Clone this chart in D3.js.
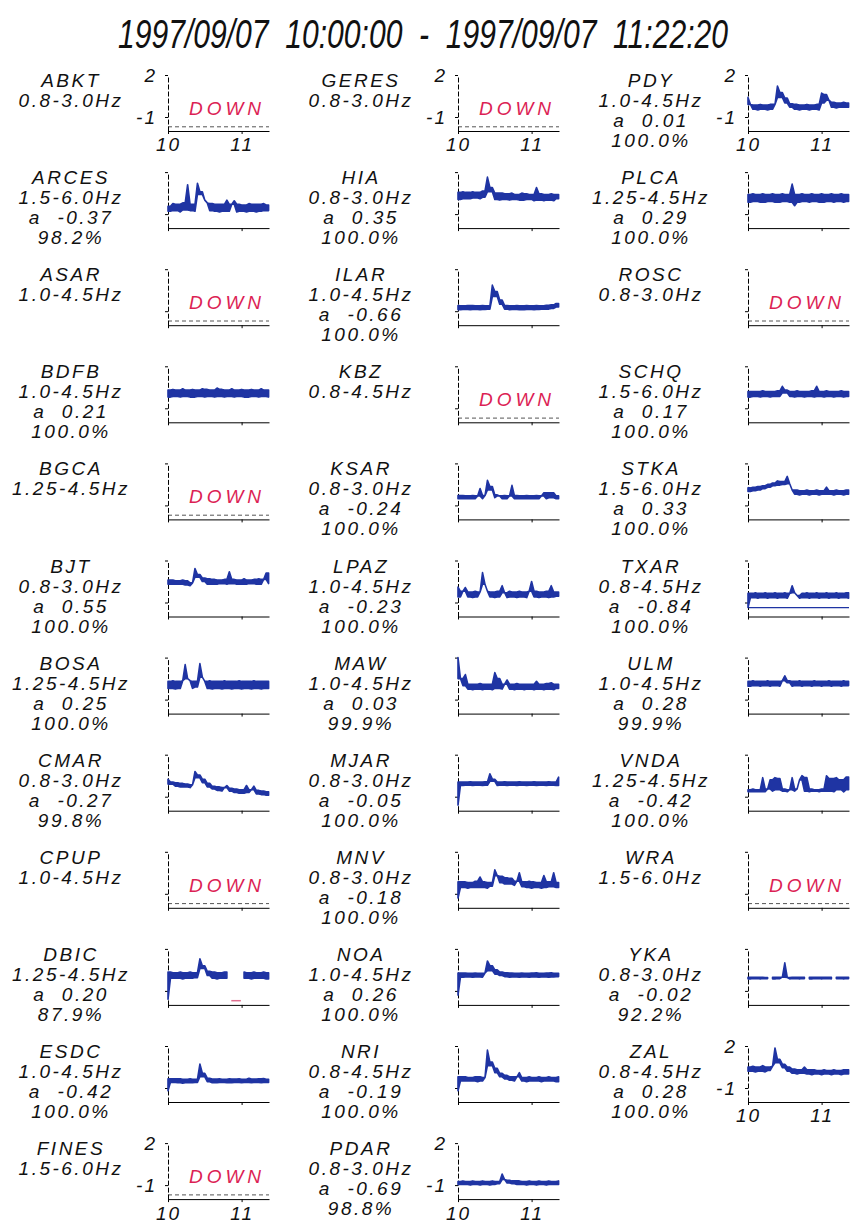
<!DOCTYPE html>
<html>
<head>
<meta charset="utf-8">
<script src="https://cdn.jsdelivr.net/npm/d3@7"></script>
<style>
  html, body { margin: 0; padding: 0; background: #fff; }
  svg { display: block; }
  text { font-family: "Liberation Sans", Arial, sans-serif; font-style: italic; white-space: pre; }
</style>
</head>
<body>
<div id="chart"></div>
<script>
// ---- data ----
const titleText = "1997/09/07  10:00:00  -  1997/09/07  11:22:20";

const stations = ["ABKT","ARCES","ASAR","BDFB","BGCA","BJT","BOSA","CMAR","CPUP","DBIC","ESDC","FINES",
  "GERES","HIA","ILAR","KBZ","KSAR","LPAZ","MAW","MJAR","MNV","NOA","NRI","PDAR",
  "PDY","PLCA","ROSC","SCHQ","STKA","TXAR","ULM","VNDA","WRA","YKA","ZAL"];
const bands = ["0.8-3.0Hz","1.5-6.0Hz","1.0-4.5Hz","1.0-4.5Hz","1.25-4.5Hz","0.8-3.0Hz","1.25-4.5Hz","0.8-3.0Hz","1.0-4.5Hz","1.25-4.5Hz","1.0-4.5Hz","1.5-6.0Hz",
  "0.8-3.0Hz","0.8-3.0Hz","1.0-4.5Hz","0.8-4.5Hz","0.8-3.0Hz","1.0-4.5Hz","1.0-4.5Hz","0.8-3.0Hz","0.8-3.0Hz","1.0-4.5Hz","0.8-4.5Hz","0.8-3.0Hz",
  "1.0-4.5Hz","1.25-4.5Hz","0.8-3.0Hz","1.5-6.0Hz","1.5-6.0Hz","0.8-4.5Hz","1.0-4.5Hz","1.25-4.5Hz","1.5-6.0Hz","0.8-3.0Hz","0.8-4.5Hz"];
const aValues = [null,-0.37,null,0.21,null,0.55,0.25,-0.27,null,0.20,-0.42,null,
  null,0.35,-0.66,null,-0.24,-0.23,0.03,-0.05,-0.18,0.26,-0.19,-0.69,
  0.01,0.29,null,0.17,0.33,-0.84,0.28,-0.42,null,-0.02,0.28];
const uptime = [null,98.2,null,100.0,null,100.0,100.0,99.8,null,87.9,100.0,null,
  null,100.0,100.0,null,100.0,100.0,99.9,100.0,100.0,100.0,100.0,98.8,
  100.0,100.0,null,100.0,100.0,100.0,99.9,100.0,null,92.2,100.0];
const columnSizes = [12, 12, 11];

const xTicks = [10, 11];
const yTicks = [2, -1];
const timeRange = [10, 11 + 22 / 60 + 20 / 3600];
// sample times, minutes after 10:00
const minutes = [0,2,4,6,8,10,12,14,16,18,20,22,24,26,28,30,32,34,36,38,40,42,
  44,46,48,50,52,54,56,58,60,62,64,66,68,70,72,74,76,78,80,82];

const sARCES = [-0.45,-0.8,-0.25,-0.75,-0.3,-0.85,-0.2,-0.7,1.1,-0.75,-0.3,-0.8,1.2,0.4,0.6,0.0,-0.2,-0.75,-0.25,-0.8,
  -0.3,-0.85,-0.3,-0.8,0.0,-0.8,-0.3,-0.05,-0.85,-0.3,-0.8,-0.35,-0.85,-0.25,-0.8,-0.3,-0.85,-0.3,-0.8,-0.25,-0.75,-0.35];
const sBDFB = [0.3,-0.2,0.35,-0.15,0.3,-0.2,0.4,-0.15,0.3,-0.2,0.35,-0.2,0.3,-0.15,0.4,-0.2,0.35,-0.15,0.3,-0.2,
  0.45,-0.15,0.35,-0.2,0.3,-0.15,0.4,-0.2,0.3,-0.15,0.35,-0.2,0.3,-0.2,0.35,-0.15,0.3,-0.2,0.4,-0.15,0.3,-0.2];
const sBJT = [0.6,0.3,0.6,0.3,0.55,0.3,0.6,0.25,0.55,0.2,0.4,1.43,0.8,1.0,0.5,0.75,0.3,0.7,0.3,0.65,
  0.3,0.6,0.35,0.65,0.3,1.2,0.35,0.65,0.3,0.6,0.3,0.7,0.3,0.6,0.35,0.65,0.3,0.7,0.3,0.65,1.1,0.35];
const sBOSA = [0.3,-0.2,0.35,-0.25,0.3,-0.2,0.35,1.5,0.5,0.35,-0.2,0.3,-0.1,1.57,0.6,0.3,-0.2,0.35,-0.25,0.3,
  -0.2,0.3,-0.25,0.35,-0.2,0.3,-0.25,0.3,-0.2,0.35,-0.25,0.3,-0.2,0.3,-0.25,0.35,-0.2,0.3,-0.25,0.3,-0.2,0.3];
const sCMAR = [0.25,-0.1,0.05,-0.25,0.0,-0.3,-0.05,-0.3,-0.1,-0.35,-0.15,0.8,0.35,0.55,0.0,0.25,-0.3,-0.05,-0.45,-0.25,
  -0.55,-0.3,-0.6,-0.35,-0.2,-0.6,-0.4,-0.7,-0.45,-0.75,-0.5,-0.75,-0.2,-0.7,-0.5,-0.25,-0.8,-0.55,-0.85,-0.6,-0.9,-0.65];
const sDBIC = [-1.6,0.35,-0.1,0.3,-0.1,0.35,-0.15,0.3,-0.1,0.35,-0.1,0.3,-0.05,1.29,0.6,0.8,0.1,0.4,-0.1,0.35,
  -0.15,0.3,-0.1,0.35,-0.1,null,null,null,null,null,null,0.35,-0.1,0.3,-0.15,0.35,-0.1,0.3,-0.1,0.35,-0.15,0.3];
const sESDC = [-1.2,-0.35,-0.6,-0.35,-0.62,-0.35,-0.65,-0.38,-0.62,-0.35,-0.62,-0.38,-0.6,0.71,-0.2,0.05,-0.55,-0.3,-0.62,-0.36,
  -0.62,-0.35,-0.6,-0.38,-0.62,-0.35,-0.62,-0.36,-0.6,-0.35,-0.62,-0.38,-0.6,-0.3,-0.62,-0.36,-0.6,-0.35,-0.62,-0.33,-0.6,-0.38];
const sHIA = [0.55,0.05,0.6,0.1,0.55,0.1,0.6,0.15,0.55,0.1,0.65,0.2,1.64,0.6,0.9,0.05,0.5,0.0,0.5,0.05,
  0.45,0.0,0.5,0.05,0.4,0.0,0.5,0.0,0.45,0.05,0.4,-0.05,0.9,0.0,0.45,-0.05,0.4,0.0,0.45,-0.05,0.4,0.1];
const sILAR = [-0.6,-0.9,-0.62,-0.88,-0.6,-0.9,-0.6,-0.88,-0.62,-0.9,-0.6,-0.88,-0.62,-0.85,0.86,0.05,0.4,-0.5,-0.2,-0.85,
  -0.6,-0.9,-0.62,-0.88,-0.6,-0.9,-0.62,-0.9,-0.6,-0.88,-0.62,-0.9,-0.6,-0.88,-0.62,-0.85,-0.58,-0.85,-0.55,-0.8,-0.45,-0.7];
const sKSAR = [-0.3,-0.52,-0.3,-0.52,-0.32,-0.52,-0.3,-0.52,-0.32,0.21,-0.52,-0.3,0.79,0.1,0.35,-0.45,-0.25,-0.32,-0.52,-0.3,
  -0.52,-0.32,0.43,-0.52,-0.3,-0.52,-0.32,-0.52,-0.3,-0.52,-0.32,-0.52,-0.3,-0.52,-0.32,-0.1,-0.52,-0.1,-0.45,-0.1,-0.52,-0.32];
const sLPAZ = [0.1,-0.6,-0.2,0.07,-0.6,-0.25,-0.65,-0.2,-0.6,-0.25,1.14,0.3,-0.2,-0.6,-0.25,-0.65,-0.2,-0.6,0.2,-0.3,
  -0.65,-0.2,-0.6,-0.25,-0.65,-0.2,-0.6,-0.25,-0.65,-0.2,0.5,-0.6,-0.2,-0.65,-0.25,-0.6,-0.2,-0.65,0.2,-0.6,-0.25,-0.55];
const sMAW = [2.0,0.5,0.0,0.79,-0.25,0.1,-0.3,0.1,-0.25,0.15,-0.3,0.1,-0.25,0.1,-0.3,0.93,-0.2,0.5,-0.25,0.1,
  0.4,-0.25,0.1,-0.3,0.15,-0.25,0.1,-0.3,0.1,-0.25,0.1,-0.3,0.3,-0.25,0.1,-0.3,0.15,-0.25,0.2,-0.3,0.1,-0.2];
const sMJAR = [-1.6,0.05,-0.2,0.05,-0.18,0.06,-0.2,0.04,-0.18,0.05,-0.2,0.06,-0.18,0.64,0.1,0.25,-0.2,0.05,-0.18,0.06,
  -0.2,0.05,-0.18,0.04,-0.2,0.06,-0.18,0.05,-0.2,0.04,-0.18,0.06,-0.2,0.05,-0.18,0.04,-0.2,0.06,-0.18,0.05,-0.2,0.4];
const sMNV = [-1.3,-0.15,-0.55,-0.15,-0.6,-0.2,-0.55,-0.1,-0.55,0.2,-0.55,-0.15,-0.6,-0.2,-0.45,0.71,0.3,-0.2,0.25,-0.3,
  0.15,-0.3,0.1,-0.4,-0.1,0.5,-0.5,-0.15,-0.55,-0.1,-0.6,-0.15,-0.55,-0.2,-0.6,0.3,-0.55,-0.15,-0.5,0.5,-0.55,-0.2];
const sNOA = [-1.3,0.28,-0.02,0.28,0.0,0.26,-0.02,0.28,0.0,0.26,-0.02,0.28,1.14,0.45,0.8,0.2,0.5,0.1,0.35,0.02,
  0.3,-0.02,0.28,0.0,0.26,-0.02,0.28,0.0,0.26,-0.02,0.28,0.0,0.3,-0.02,0.26,0.0,0.28,-0.02,0.3,0.0,0.26,0.02];
const sNRI = [-1.2,-0.2,-0.5,-0.2,-0.5,-0.25,-0.5,-0.2,-0.55,-0.2,-0.5,-0.25,1.71,0.6,0.85,0.1,0.4,-0.2,0.05,-0.35,
  -0.1,-0.45,-0.2,-0.5,-0.2,0.1,-0.5,-0.25,-0.55,-0.2,-0.5,-0.25,-0.5,-0.2,-0.55,-0.25,-0.5,-0.2,-0.5,-0.25,-0.55,-0.2];
const sPDAR = [-0.75,-0.95,-0.7,-0.95,-0.75,-1.0,-0.7,-0.95,-0.75,-1.0,-0.7,-0.95,-0.75,-1.0,-0.7,-0.95,-0.75,-0.9,-0.21,-0.6,
  -0.85,-0.65,-0.9,-0.7,-0.95,-0.7,-0.95,-0.75,-1.0,-0.7,-0.95,-0.75,-1.0,-0.7,-0.95,-0.75,-1.0,-0.7,-0.95,-0.75,-0.95,-0.7];
const sPDY = [0.4,-0.1,-0.45,-0.15,-0.5,-0.1,-0.45,-0.15,-0.5,-0.1,-0.45,-0.1,1.21,0.4,0.75,0.0,0.35,-0.3,-0.05,-0.45,
  -0.1,-0.5,-0.15,-0.45,-0.1,-0.5,-0.15,-0.45,-0.1,-0.5,0.71,0.0,0.6,0.2,-0.3,0.05,-0.35,0.0,-0.3,0.05,-0.3,0.0];
const sPLCA = [0.4,-0.15,0.45,-0.1,0.4,-0.15,0.45,-0.15,0.4,-0.1,0.45,-0.15,0.4,-0.15,0.45,-0.1,0.4,-0.15,1.14,-0.4,
  0.4,-0.15,0.45,-0.1,0.4,-0.15,0.45,-0.1,0.4,-0.15,0.45,-0.15,0.4,-0.1,0.45,-0.15,0.4,-0.1,0.45,-0.15,0.4,-0.1];
const sSCHQ = [0.2,-0.2,0.2,-0.15,0.2,-0.2,0.25,-0.15,0.2,-0.2,0.2,-0.15,0.25,-0.15,0.57,0.1,0.3,-0.15,0.2,-0.2,
  0.25,-0.15,0.2,-0.2,0.2,-0.15,0.25,-0.2,0.57,-0.15,0.2,-0.2,0.25,-0.15,0.2,-0.2,0.2,-0.15,0.25,-0.2,0.2,-0.15];
const sSTKA = [0.25,0.0,0.3,0.05,0.35,0.1,0.4,0.2,0.5,0.3,0.6,0.4,0.75,0.45,0.7,0.5,1.07,0.55,0.1,-0.2,
  0.1,-0.25,0.05,-0.2,0.1,-0.25,0.05,-0.2,0.1,-0.25,0.05,-0.2,0.3,-0.2,0.05,-0.25,0.1,-0.2,0.05,-0.25,0.1,-0.2];
const sTXAR = [-1.36,-0.35,-0.65,-0.3,-0.7,-0.35,-0.65,-0.3,-0.7,-0.35,-0.65,-0.3,-0.7,-0.35,-0.65,-0.3,-0.7,-0.35,0.2,-0.3,
  -0.5,-0.7,-0.35,-0.65,-0.3,-0.7,-0.35,-0.65,-0.3,-0.7,-0.35,-0.65,-0.3,-0.7,-0.35,-0.65,-0.3,-0.7,-0.35,-0.65,-0.3,-0.7];
const sULM = [0.3,-0.05,0.35,0.0,0.3,-0.05,0.3,0.0,0.35,-0.05,0.3,0.0,0.3,-0.05,0.35,0.7,0.2,0.35,-0.05,0.3,
  0.0,0.35,-0.05,0.3,0.0,0.3,-0.05,0.35,0.0,0.3,-0.05,0.3,0.0,0.35,-0.05,0.3,0.0,0.3,-0.05,0.35,0.0,0.3];
const sVNDA = [-0.5,-0.65,-0.45,-0.65,-0.5,-0.65,0.36,-0.65,-0.45,0.2,-0.6,0.36,-0.5,0.3,-0.6,-0.45,-0.65,-0.5,0.36,-0.6,
  -0.45,0.2,0.5,-0.6,0.36,-0.65,-0.45,-0.6,-0.5,-0.65,-0.45,-0.6,0.5,-0.6,0.3,-0.65,0.36,-0.5,0.2,-0.65,0.4,-0.5];
const sYKA = [-0.02,-0.14,-0.02,-0.12,-0.03,-0.14,-0.02,-0.12,-0.04,null,-0.02,-0.14,-0.03,-0.12,-0.02,1.0,-0.04,-0.14,-0.02,-0.12,
  -0.03,-0.14,-0.02,-0.12,null,-0.03,-0.14,-0.02,-0.12,-0.03,-0.14,-0.02,-0.12,-0.03,-0.14,null,-0.03,-0.12,-0.02,-0.14,-0.03,-0.12];
const sZAL = [0.5,0.2,0.55,0.15,0.5,0.2,0.6,0.15,0.5,0.25,0.55,1.86,0.8,1.05,0.45,0.7,0.2,0.5,0.05,0.35,
  0.0,0.3,0.05,0.5,0.0,0.3,-0.05,0.3,0.0,0.25,-0.05,0.3,0.0,0.25,-0.05,0.3,0.0,0.25,-0.05,0.3,0.0,0.3];

const seriesByStation = {
  ARCES: sARCES, BDFB: sBDFB, BJT: sBJT, BOSA: sBOSA, CMAR: sCMAR, DBIC: sDBIC, ESDC: sESDC,
  HIA: sHIA, ILAR: sILAR, KSAR: sKSAR, LPAZ: sLPAZ, MAW: sMAW, MJAR: sMJAR, MNV: sMNV,
  NOA: sNOA, NRI: sNRI, PDAR: sPDAR, PDY: sPDY, PLCA: sPLCA, SCHQ: sSCHQ, STKA: sSTKA,
  TXAR: sTXAR, ULM: sULM, VNDA: sVNDA, YKA: sYKA, ZAL: sZAL
};

const coverageLevel = -1.7;
// [station, from hour, to hour] : data gap marked on the coverage line
const gapMarks = [["DBIC", 10.86, 10.99]];
// [station, level] : extra baseline drawn in the trace colour
const extraLines = [["TXAR", -1.36]];

// ---- layout ----
const width = 850, height = 1223;
const colLeft = [168, 458, 748];
const textCenter = [71, 361, 651];
const firstTop = 75, rowStep = 97.1;
const plotW = 101, plotH = 56;
const traceColor = "#1f34a3";
const downColor = "#dc1f55";

const svg = d3.select("#chart").append("svg")
  .attr("width", width)
  .attr("height", height);

svg.append("text")
  .attr("x", 423)
  .attr("y", 48)
  .attr("text-anchor", "middle")
  .attr("textLength", 610)
  .attr("lengthAdjust", "spacingAndGlyphs")
  .style("font-size", "40px")
  .attr("fill", "#111")
  .text(titleText);

const x = d3.scaleLinear().domain(timeRange).range([0, plotW]);
const y = d3.scaleLinear().domain([-2, 2]).range([plotH, 0]);

// the noisy trace is drawn as a filled band: at each sample the band
// spans the sample and its neighbours, so single spikes stay thin
const band = d3.area()
  .defined(d => d.v !== null)
  .x(d => x(d.t))
  .y0(d => y(d.lo))
  .y1(d => y(d.hi));

const toBand = values => minutes.map((m, k) => {
  const v = values[k];
  const nb = [values[k - 1], values[k + 1]].filter(u => u !== undefined && u !== null);
  const lo = nb.length ? Math.min(v, d3.max(nb)) : v;
  const hi = nb.length ? Math.max(v, d3.min(nb)) : v;
  return { t: 10 + m / 60, v, lo, hi };
});

// plain hyphen for negatives, as in the picture
const fmtA = v => d3.format(".2f")(v).replace("\u2212", "-");
const fmtP = d3.format(".1f");

stations.forEach((name, i) => {
  let col = 0, row = i;
  while (row >= columnSizes[col]) { row -= columnSizes[col]; col++; }
  const top = firstTop + row * rowStep;
  const labelled = row === 0 || row === columnSizes[col] - 1;
  const isDown = aValues[i] === null;

  // station text block
  const lines = [name, bands[i]];
  if (!isDown) {
    lines.push("a  " + fmtA(aValues[i]));
    lines.push(fmtP(uptime[i]) + "%");
  }
  svg.append("g")
    .selectAll("text")
    .data(lines)
    .enter()
    .append("text")
    .attr("x", textCenter[col])
    .attr("y", (d, k) => top + 12 + k * 20)
    .attr("text-anchor", "middle")
    .attr("font-size", 19)
    .attr("letter-spacing", 2.5)
    .attr("fill", "#111")
    .text(d => d);

  const g = svg.append("g")
    .attr("transform", `translate(${colLeft[col]}, ${top})`);

  // coverage line, only visible for stations that are down
  if (isDown) {
    g.append("line")
      .attr("x1", x(timeRange[0]))
      .attr("x2", x(timeRange[1]))
      .attr("y1", y(coverageLevel))
      .attr("y2", y(coverageLevel))
      .attr("stroke", "#555")
      .attr("stroke-dasharray", "4,3");
  }

  gapMarks.filter(m => m[0] === name).forEach(m => {
    g.append("line")
      .attr("x1", x(m[1])).attr("x2", x(m[2]))
      .attr("y1", y(coverageLevel)).attr("y2", y(coverageLevel))
      .attr("stroke", "#e07090")
      .attr("stroke-width", 1.5);
  });

  extraLines.filter(m => m[0] === name).forEach(m => {
    g.append("line")
      .attr("x1", x(timeRange[0])).attr("x2", x(timeRange[1]))
      .attr("y1", y(m[1])).attr("y2", y(m[1]))
      .attr("stroke", traceColor)
      .attr("stroke-width", 1.2);
  });

  // axes
  const yAxis = d3.axisLeft(y)
    .tickValues(yTicks)
    .tickSize(3)
    .tickSizeOuter(0)
    .tickPadding(8)
    .tickFormat(d => labelled ? String(d) : "");
  const ya = g.append("g").call(yAxis);
  ya.select(".domain").attr("stroke-dasharray", "5,2");

  const xAxis = d3.axisBottom(x)
    .tickValues(xTicks)
    .tickSize(3)
    .tickSizeOuter(0)
    .tickPadding(4)
    .tickFormat(d => labelled ? String(d) : "");
  const xa = g.append("g")
    .attr("transform", `translate(0, ${plotH})`)
    .call(xAxis);

  [ya, xa].forEach(a => {
    a.selectAll("text")
      .attr("font-size", 19)
      .attr("letter-spacing", 2)
      .attr("fill", "#111");
  });

  if (isDown) {
    g.append("text")
      .attr("x", 59)
      .attr("y", y(-1) - 2)
      .attr("text-anchor", "middle")
      .attr("font-size", 19)
      .attr("letter-spacing", 4)
      .attr("fill", downColor)
      .text("DOWN");
    return;
  }

  g.append("path")
    .datum(toBand(seriesByStation[name]))
    .attr("fill", traceColor)
    .attr("stroke", traceColor)
    .attr("stroke-width", 1.6)
    .attr("stroke-linejoin", "round")
    .attr("d", band);
});
</script>
</body>
</html>
